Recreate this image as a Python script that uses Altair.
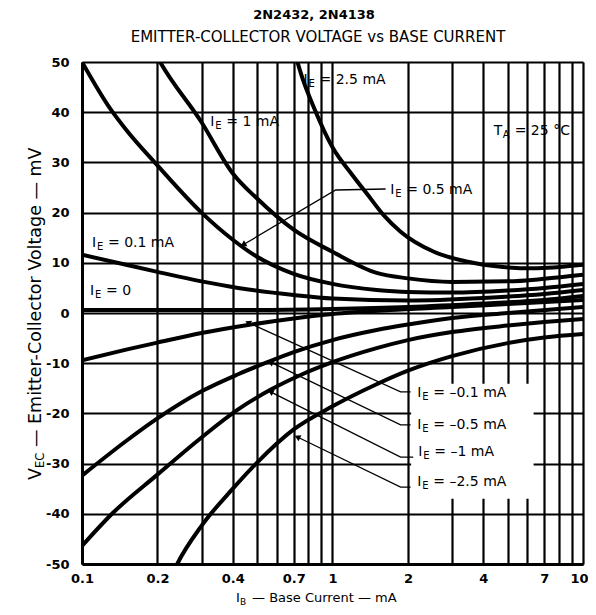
import math
import altair as alt
import pandas as pd

# ---------------- data ----------------
W, H = 501, 502
x_domain = [0.1, 10]
y_domain = [-50, 50]
x_grid = [0.1, 0.2, 0.3, 0.4, 0.5, 0.6, 0.7, 0.8, 0.9, 1, 2, 3, 4, 5, 6, 7, 8, 9, 10]
x_labels = [0.1, 0.2, 0.4, 0.7, 1, 2, 4, 7, 10]
y_ticks = [-50, -40, -30, -20, -10, 0, 10, 20, 30, 40, 50]

ie_names = ["2.5", "1", "0.5", "0.1", "0", "-0.1", "-0.5", "-1", "-2.5"]

ie_2p5_x = [0.70, 0.725, 0.745, 0.85, 1.0, 1.2, 1.38, 1.6, 1.87, 2.54, 3.47, 4.7, 6.3, 10]
ie_2p5_y = [53.5, 50, 48, 40.5, 33, 27.5, 23.6, 19.5, 16.2, 12.2, 10.2, 9.2, 8.9, 9.6]
ie_1_x = [0.19, 0.205, 0.3, 0.4, 0.5, 0.7, 1.0, 1.5, 2, 3, 5, 7, 10]
ie_1_y = [53, 50, 38, 27.8, 22.8, 16.6, 12.2, 8.0, 6.9, 6.2, 6.3, 6.8, 7.6]
ie_0p5_x = [0.1, 0.13, 0.15, 0.2, 0.3, 0.4, 0.5, 0.7, 1, 1.5, 2, 3, 5, 7, 10]
ie_0p5_y = [50, 40.6, 36.5, 29.4, 20, 14.6, 11.2, 7.8, 5.8, 4.6, 4.2, 4.1, 4.5, 5.0, 5.8]
ie_0p1_x = [0.1, 0.15, 0.2, 0.3, 0.42, 0.7, 1, 2, 4, 7, 10]
ie_0p1_y = [11.6, 9.6, 8.2, 6.3, 5.0, 3.6, 2.9, 2.5, 3.0, 3.8, 4.6]
ie_0_x = [0.1, 0.5, 1, 2, 4, 7, 10]
ie_0_y = [0.6, 0.6, 0.8, 1.2, 1.9, 2.6, 3.4]
ie_m0p1_x = [0.1, 0.15, 0.2, 0.3, 0.46, 0.7, 1, 1.7, 3, 5, 10]
ie_m0p1_y = [-9.4, -7.3, -5.9, -4.0, -2.4, -1.1, -0.2, 0.6, 1.2, 1.8, 2.6]
ie_m0p5_x = [0.1, 0.15, 0.2, 0.3, 0.42, 0.55, 0.7, 1, 1.5, 2, 3, 5, 10]
ie_m0p5_y = [-32.4, -25.5, -21, -15.6, -12.2, -9.8, -7.8, -5.4, -3.4, -2.3, -1.0, 0.0, 1.2]
ie_m1_x = [0.1, 0.133, 0.2, 0.3, 0.42, 0.57, 0.75, 1, 1.5, 2, 3, 5, 7, 10]
ie_m1_y = [-46.4, -39.8, -32.2, -24.8, -19.2, -15.2, -12.3, -9.8, -7.0, -5.4, -3.8, -2.5, -1.8, -1.2]
ie_m2p5_x = [0.225, 0.24, 0.3, 0.4, 0.5, 0.7, 1, 1.5, 2, 3, 5, 7, 10]
ie_m2p5_y = [-53, -50, -42.4, -35, -29.8, -23.2, -18.6, -14.2, -11.5, -8.6, -6.0, -4.9, -4.2]

curve_xs = [ie_2p5_x, ie_1_x, ie_0p5_x, ie_0p1_x, ie_0_x, ie_m0p1_x, ie_m0p5_x, ie_m1_x, ie_m2p5_x]
curve_ys = [ie_2p5_y, ie_1_y, ie_0p5_y, ie_0p1_y, ie_0_y, ie_m0p1_y, ie_m0p5_y, ie_m1_y, ie_m2p5_y]

# curve annotation labels (I_E = ...), left edge / vertical centre
label_main = ["I"] * 9
label_sub = ["E"] * 9
label_rest = ["= 2.5 mA", "= 1 mA", "= 0.5 mA", "= 0.1 mA", "= 0",
              "= \u20130.1 mA", "= \u20130.5 mA", "= \u20131 mA", "= \u20132.5 mA"]
label_x = [0.766, 0.325, 1.70, 0.1096, 0.1077, 2.18, 2.18, 2.2, 2.18]
label_y = [46.4, 38.0, 24.5, 13.9, 4.4, -15.9, -22.3, -27.7, -33.7]

# arrows: tail (label side) -> bend -> tip (on curve)
arrow_ids = ["0.5", "-0.1", "-0.5", "-1", "-2.5"]
arrow_xs = [[1.63, 1.03, 0.44], [2.05, 1.87, 0.46], [2.05, 1.87, 0.566], [2.1, 1.87, 0.566], [2.05, 1.87, 0.724]]
arrow_ys = [[24.7, 24.5, 13.6], [-15.7, -15.7, -1.9], [-22.3, -22.3, -9.8], [-28.7, -28.7, -15.7], [-34.7, -34.7, -24.7]]

# white box behind the negative-current labels (x, x2, y, y2)
box_x = [2.06]
box_x2 = [6.35]
box_y = [-14.1]
box_y2 = [-37.0]

title_1 = "2N2432, 2N4138"
title_2 = "EMITTER-COLLECTOR VOLTAGE vs BASE CURRENT"

# ---------------- build tables ----------------
rows = []
for name, xs_, ys_ in zip(ie_names, curve_xs, curve_ys):
    for a, b in zip(xs_, ys_):
        rows.append({"ie": name, "x": a, "y": b})
curves_df = pd.DataFrame(rows)

labels_df = pd.DataFrame({"x": label_x, "y": label_y, "main": label_main,
                          "sub": label_sub, "rest": label_rest})


def px(v):
    return W * math.log10(v / x_domain[0]) / math.log10(x_domain[1] / x_domain[0])


def py(v):
    return H * (y_domain[1] - v) / (y_domain[1] - y_domain[0])


arow = []
heads = []
for aid, axs, ays in zip(arrow_ids, arrow_xs, arrow_ys):
    for i, (a, b) in enumerate(zip(axs, ays)):
        arow.append({"id": aid, "x": a, "y": b, "o": i})
    dx = px(axs[-1]) - px(axs[-2])
    dy = py(ays[-1]) - py(ays[-2])
    ang = math.degrees(math.atan2(-dy, -dx)) % 360
    heads.append({"id": aid, "x": axs[-1], "y": ays[-1], "ang": ang})
arrows_df = pd.DataFrame(arow)
heads_df = pd.DataFrame(heads)
boxes_df = pd.DataFrame({"x": box_x, "x2": box_x2, "y": box_y, "y2": box_y2})

# ---------------- chart ----------------
FONT = "DejaVu Sans"
xs = alt.Scale(type="log", domain=x_domain)
ys = alt.Scale(domain=y_domain)

lab_list = ",".join(str(v) for v in x_labels)
x_axis = alt.Axis(values=x_grid, grid=True, gridColor="black", gridWidth=2.2, gridOpacity=1,
                  ticks=False, domain=True, domainColor="black", domainWidth=3,
                  labelExpr=f"indexof([{lab_list}], datum.value) >= 0 ? '' + datum.value : ''",
                  labelFont=FONT, labelFontSize=13, labelFontWeight="bold", labelColor="black",
                  labelPadding=8, labelFlush=False, labelOverlap=False, title=None,
                  labelOffset={"condition": {"test": f"datum.value == {x_domain[1]}", "value": -4},
                               "value": 0})
y_axis = alt.Axis(values=y_ticks, grid=True, gridColor="black", gridWidth=2.2, gridOpacity=1,
                  ticks=False, domain=True, domainColor="black", domainWidth=3,
                  labelExpr="'' + datum.value", labelFont=FONT, labelFontSize=13,
                  labelFontWeight="bold", labelColor="black", labelPadding=13,
                  labelFlush=False, labelOverlap=False, title=None)

X = alt.X("x:Q", scale=xs, axis=x_axis)
Y = alt.Y("y:Q", scale=ys, axis=y_axis)

boxes = alt.Chart(boxes_df).mark_rect(color="white").encode(
    x=X, x2="x2:Q", y=Y, y2="y2:Q")

lines = alt.Chart(curves_df).mark_line(color="black", strokeWidth=4, clip=True,
                                       interpolate="monotone").encode(
    x=X, y=Y, detail="ie:N")

arrows = alt.Chart(arrows_df).mark_line(color="black", strokeWidth=1.3).encode(
    x=X, y=Y, detail="id:N", order="o:Q")

heads_l = alt.Chart(heads_df).mark_point(shape="triangle-left", filled=True, size=45,
                                         color="black", opacity=1, strokeWidth=0).encode(
    x=X, y=Y, angle=alt.Angle("ang:Q", scale=None))


def sub_text(df, main_dx, sub_dx, rest_dx, size, subsize, sub_dy, **enc):
    base = alt.Chart(df)
    common = dict(font=FONT, color="black", align="left", baseline="middle")
    m = base.mark_text(fontSize=size, dx=main_dx, **common).encode(text="main:N", **enc)
    s = base.mark_text(fontSize=subsize, dx=sub_dx, dy=sub_dy, **common).encode(text="sub:N", **enc)
    r = base.mark_text(fontSize=size, dx=rest_dx, **common).encode(text="rest:N", **enc)
    return [m, s, r]


curve_labels = sub_text(labels_df, 0, 5, 16, 14, 10, 4, x=X, y=Y)

ta_df = pd.DataFrame({"x": [4.4], "y": [36.3], "main": ["T"], "sub": ["A"], "rest": ["= 25 \u00b0C"]})
ta_labels = sub_text(ta_df, 0, 9, 21, 14, 10, 4, x=X, y=Y)

# axis titles (with subscripts) placed relative to the plot area
xt_df = pd.DataFrame({"main": ["I"], "sub": ["B"], "rest": ["\u2014 Base Current \u2014 mA"]})
xt = sub_text(xt_df, 0, 4, 16, 13, 9, 4, x=alt.value(154), y=alt.value(536))

yt_df = pd.DataFrame({"main": ["V"], "sub": ["EC"], "rest": ["\u2014 Emitter-Collector Voltage \u2014 mV"]})
ybase = alt.Chart(yt_df)
ycommon = dict(font=FONT, color="black", align="left", baseline="middle", angle=270)
yt = [
    ybase.mark_text(fontSize=17.5, **ycommon).encode(text="main:N", x=alt.value(-46), y=alt.value(418)),
    ybase.mark_text(fontSize=11.5, dx=12, dy=5, **ycommon).encode(text="sub:N", x=alt.value(-46), y=alt.value(418)),
    ybase.mark_text(fontSize=17.5, dx=33, **ycommon).encode(text="rest:N", x=alt.value(-46), y=alt.value(418)),
]

t_df = pd.DataFrame({"t1": [title_1], "t2": [title_2]})
titles = [
    alt.Chart(t_df).mark_text(font=FONT, fontSize=13, fontWeight="bold", color="black",
                              align="center", baseline="middle").encode(
        text="t1:N", x=alt.value(232), y=alt.value(-47)),
    alt.Chart(t_df).mark_text(font=FONT, fontSize=15, color="black",
                              align="center", baseline="middle").encode(
        text="t2:N", x=alt.value(236), y=alt.value(-25)),
]

chart = alt.layer(boxes, lines, arrows, heads_l, *curve_labels, *ta_labels, *xt, *yt, *titles).properties(
    width=W, height=H,
    autosize=alt.AutoSizeParams(type="none"),
    padding={"left": 74, "top": 54, "right": 5, "bottom": 43},
).configure_view(stroke=None).configure(background="white")

chart.save("out.html", embed_options={"renderer": "svg", "actions": False})
